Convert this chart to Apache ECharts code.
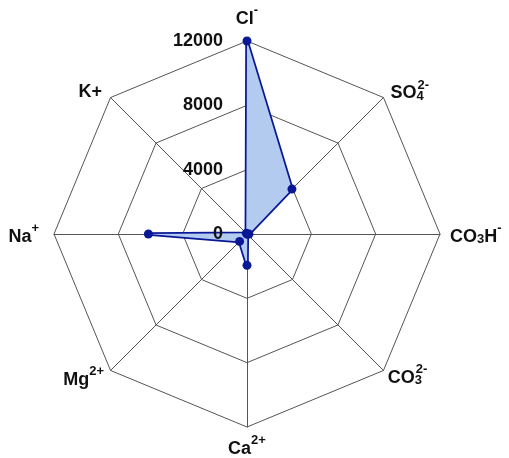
<!DOCTYPE html>
<html>
<head>
<meta charset="utf-8">
<script src="https://cdn.jsdelivr.net/npm/echarts@6/dist/echarts.min.js"></script>
<style>
  html, body { margin: 0; padding: 0; background: #fff; }
  #chart { width: 509px; height: 458px; }
</style>
</head>
<body>
<div id="chart"></div>
<script>
// Ion names, counter-clockwise from the top (rich-text markup for sub/superscripts)
const ions = [
  '{b|Cl}{sup|-}',
  '{b|K+}',
  '{b|Na}{sup|+}',
  '{b|Mg}{sup|2+}',
  '{b|Ca}{sup|2+}',
  '{b|CO}{sub|3}{sup|2-}',
  '{b|CO}{sub2|3}{b|H}{sup|-}',
  '{b|SO}{sub|4}{sup|2-}'
];
// Concentrations for each ion, same order
const concentrations = [12000, 60, 6130, 650, 1950, 30, 120, 3950];
// Radial scale
const scaleMin = 0;
const scaleMax = 12000;
const scaleSteps = 3;

// Distance of each ion name from the outer ring
const nameGaps = [13, 12, 15, 9, 7, 6, 10, 10];

const FONT = '"Liberation Sans", Arial, sans-serif';
const LINE = '#0a1896';
const INK = '#111';
const GRID = '#555';

const CENTER = [247, 234];
const RADIUS = 193;

const chart = echarts.init(document.getElementById('chart'), null, { renderer: 'canvas' });

const nameRich = {
  b: { fontFamily: FONT, fontWeight: 'bold', fontSize: 18, color: INK, lineHeight: 24, verticalAlign: 'bottom' },
  sup: { fontFamily: FONT, fontWeight: 'bold', fontSize: 13, color: INK, verticalAlign: 'top', lineHeight: 22 },
  sub: { fontFamily: FONT, fontWeight: 'bold', fontSize: 13, color: INK, verticalAlign: 'bottom', lineHeight: 16, width: 1 },
  sub2: { fontFamily: FONT, fontWeight: 'bold', fontSize: 13, color: INK, verticalAlign: 'bottom', lineHeight: 16 }
};

chart.setOption({
  animation: false,
  backgroundColor: '#fff',
  radar: [
    // web: rings, spokes and ion names (drawn beneath the filled polygon)
    {
      z: 1,
      center: CENTER,
      radius: RADIUS,
      startAngle: 90,
      shape: 'polygon',
      splitNumber: scaleSteps,
      indicator: ions.map((name, i) => ({ name: name, min: scaleMin, max: scaleMax, nameGap: nameGaps[i] })),
      axisName: { color: INK, fontFamily: FONT, fontWeight: 'bold', fontSize: 18, rich: nameRich },
      splitLine: { lineStyle: { color: GRID, width: 1 } },
      splitArea: { show: false },
      axisLine: { lineStyle: { color: GRID, width: 1 } },
      axisTick: { show: false },
      axisLabel: { show: false }
    },
    // scale labels on the vertical axis, drawn above the polygon
    {
      z: 5,
      center: CENTER,
      radius: RADIUS,
      startAngle: 90,
      shape: 'polygon',
      splitNumber: scaleSteps,
      indicator: ions.map((name, i) => ({
        name: '',
        min: scaleMin,
        max: scaleMax,
        axisLabel: {
          show: i === 0,
          color: INK,
          fontFamily: FONT,
          fontWeight: 'bold',
          fontSize: 18,
          margin: 24,
          formatter: v => String(v)
        }
      })),
      axisName: { show: false },
      splitLine: { show: false },
      splitArea: { show: false },
      axisLine: { show: false },
      axisTick: { show: false },
      axisLabel: { show: false }
    }
  ],
  series: [{
    type: 'radar',
    radarIndex: 0,
    z: 2,
    symbol: 'circle',
    symbolSize: 9,
    lineStyle: { color: LINE, width: 3.5 },
    itemStyle: { color: LINE },
    areaStyle: { color: '#b4cbf0', opacity: 1 },
    data: [{ value: concentrations }]
  }]
});
</script>
</body>
</html>
